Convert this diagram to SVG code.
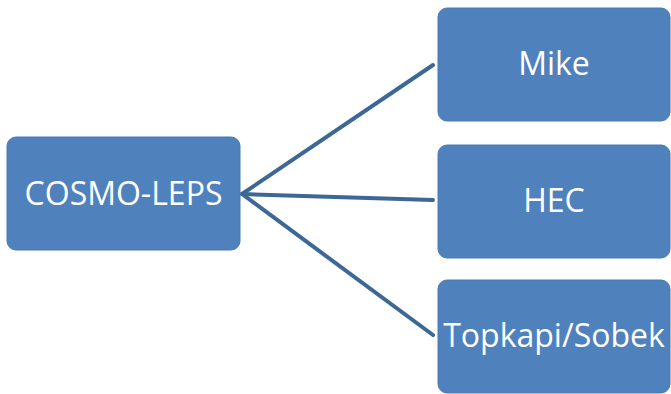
<svg xmlns="http://www.w3.org/2000/svg" width="671" height="394" viewBox="0 0 671 394">
<style>
.box{fill:#4f81bd;stroke:#4a7ab3;stroke-width:1}
.lbl{fill:#ffffff;font-family:"Open Sans","Liberation Sans",sans-serif;font-size:32px;text-anchor:middle}
.edge{stroke:#3d6896;stroke-width:4;fill:none;stroke-linecap:round}
</style>
<rect width="671" height="394" fill="#ffffff"/>
<g id="connectors">
<line class="edge" x1="242" y1="194" x2="433" y2="65"/>
<line class="edge" x1="242" y1="194" x2="433" y2="200"/>
<line class="edge" x1="242" y1="194" x2="433" y2="335"/>
</g>
<g id="cosmo-leps">
<rect class="box" x="7" y="137" width="233" height="113" rx="9"/>
<text class="lbl" x="123.5" y="205">COSMO-LEPS</text>
</g>
<g id="mike">
<rect class="box" x="438" y="8" width="232" height="113" rx="9"/>
<text class="lbl" x="554" y="75">Mike</text>
</g>
<g id="hec">
<rect class="box" x="438" y="145" width="232" height="113" rx="9"/>
<text class="lbl" x="554" y="212">HEC</text>
</g>
<g id="topkapi-sobek">
<rect class="box" x="438" y="280" width="232" height="113" rx="9"/>
<text class="lbl" x="554" y="347">Topkapi/Sobek</text>
</g>
</svg>
